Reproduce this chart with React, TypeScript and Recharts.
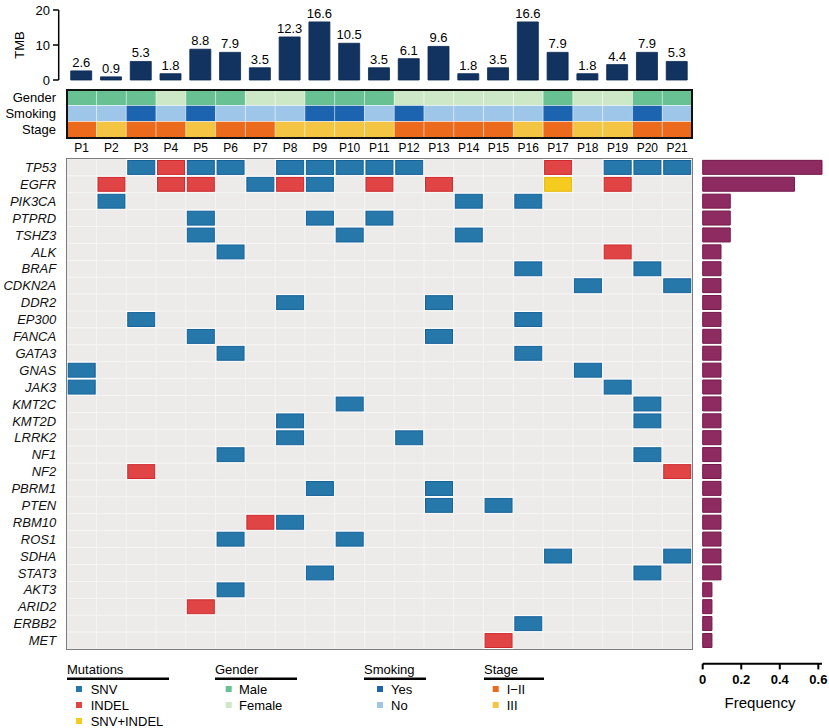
import React from 'react';
import { BarChart, Bar, XAxis, YAxis, Cell, LabelList } from 'recharts';

// ---------- data ----------
const patients = ['P1','P2','P3','P4','P5','P6','P7','P8','P9','P10','P11','P12','P13','P14','P15','P16','P17','P18','P19','P20','P21'];
const tmbValues = [2.6,0.9,5.3,1.8,8.8,7.9,3.5,12.3,16.6,10.5,3.5,6.1,9.6,1.8,3.5,16.6,7.9,1.8,4.4,7.9,5.3];
const tmbTicks = [0, 10, 20];

const trackNames = ['Gender', 'Smoking', 'Stage'];
const genderValues = ['Male','Male','Male','Female','Male','Male','Female','Female','Male','Male','Male','Female','Female','Female','Female','Female','Male','Female','Female','Male','Male'];
const smokingValues = ['No','No','Yes','No','Yes','No','No','No','Yes','Yes','No','Yes','No','No','No','No','Yes','No','No','Yes','No'];
const stageValues = ['I−II','III','I−II','I−II','III','I−II','I−II','III','III','III','III','I−II','I−II','I−II','I−II','III','I−II','III','III','I−II','I−II'];

const genes = ['TP53','EGFR','PIK3CA','PTPRD','TSHZ3','ALK','BRAF','CDKN2A','DDR2','EP300','FANCA','GATA3','GNAS','JAK3','KMT2C','KMT2D','LRRK2','NF1','NF2','PBRM1','PTEN','RBM10','ROS1','SDHA','STAT3','AKT3','ARID2','ERBB2','MET'];
// per gene, patients P1-P7 / P8-P14 / P15-P21 ; S = SNV, I = INDEL, B = SNV+INDEL
const mutationCodes = [
  '..SISS. SSSSS.. ..I.SSS', // TP53
  '.I.II.S IS.I.I. ..B.I..', // EGFR
  '.S..... ......S .S.....', // PIK3CA
  '....S.. .S.S... .......', // PTPRD
  '....S.. ..S...S .......', // TSHZ3
  '.....S. ....... ....I..', // ALK
  '....... ....... .S...S.', // BRAF
  '....... ....... ...S..S', // CDKN2A
  '....... S....S. .......', // DDR2
  '..S.... ....... .S.....', // EP300
  '....S.. .....S. .......', // FANCA
  '.....S. ....... .S.....', // GATA3
  'S...... ....... ...S...', // GNAS
  'S...... ....... ....S..', // JAK3
  '....... ..S.... .....S.', // KMT2C
  '....... S...... .....S.', // KMT2D
  '....... S...S.. .......', // LRRK2
  '.....S. ....... .....S.', // NF1
  '..I.... ....... ......I', // NF2
  '....... .S...S. .......', // PBRM1
  '....... .....S. S......', // PTEN
  '......I S...... .......', // RBM10
  '.....S. ..S.... .......', // ROS1
  '....... ....... ..S...S', // SDHA
  '....... .S..... .....S.', // STAT3
  '.....S. ....... .......', // AKT3
  '....I.. ....... .......', // ARID2
  '....... ....... .S.....', // ERBB2
  '....... ....... I......', // MET
];
const geneFrequency = [0.619,0.476,0.143,0.143,0.143,0.095,0.095,0.095,0.095,0.095,0.095,0.095,0.095,0.095,0.095,0.095,0.095,0.095,0.095,0.095,0.095,0.095,0.095,0.095,0.095,0.048,0.048,0.048,0.048];
const freqTicks = [0, 0.2, 0.4, 0.6];

const mutationLegend = ['SNV', 'INDEL', 'SNV+INDEL'];
const genderLegend = ['Male', 'Female'];
const smokingLegend = ['Yes', 'No'];
const stageLegend = ['I−II', 'III'];

// ---------- styles ----------
const mutationFill: Record<string, string> = { S: '#2677aa', I: '#e14444', B: '#f5cb1f' };
const mutationEdge: Record<string, string> = { S: '#15629b', I: '#cc2a2e', B: '#e5b80c' };
const emptyFill = '#ecebe9';
const genderColors: Record<string, string> = { Male: '#68c193', Female: '#cde8c6' };
const smokingColors: Record<string, string> = { Yes: '#1c63b0', No: '#9ec6e9' };
const stageColors: Record<string, string> = { 'I−II': '#ec6a1c', III: '#f4c542' };
const trackValues = [genderValues, smokingValues, stageValues];
const trackColors = [genderColors, smokingColors, stageColors];

const legendGroups = [
  { title: 'Mutations', items: mutationLegend, colors: [mutationFill.S, mutationFill.I, mutationFill.B] },
  { title: 'Gender', items: genderLegend, colors: genderLegend.map((g) => genderColors[g]) },
  { title: 'Smoking', items: smokingLegend, colors: smokingLegend.map((g) => smokingColors[g]) },
  { title: 'Stage', items: stageLegend, colors: stageLegend.map((g) => stageColors[g]) },
];
const legendLayout = [
  { x: 67, line: 102, sq: 9, tx: 23.7 },
  { x: 215, line: 82, sq: 10.7, tx: 24 },
  { x: 364, line: 62, sq: 13, tx: 27 },
  { x: 484, line: 60, sq: 8.7, tx: 22.7 },
];

// ---------- derived tables ----------
const tmbData = patients.map((p, i) => ({ patient: p, tmb: tmbValues[i] }));
const trackData = patients.map((p) => ({ patient: p, Gender: 1, Smoking: 1, Stage: 1 }));
const matrixData = patients.map((p) => {
  const row: Record<string, any> = { patient: p };
  genes.forEach((g) => { row[g] = 1; });
  return row;
});
const freqData = genes.map((g, i) => ({ gene: g, freq: geneFrequency[i] }));
const geneTicks = genes.map((_, i) => i + 0.5);
const trackTicks = trackNames.map((_, i) => i + 0.5);

const codeAt = (gi: number, pi: number) => mutationCodes[gi].replace(/ /g, '')[pi];

function MutCell(props: any) {
  let { x, y, width, height } = props;
  const { payload, gi } = props;
  if (height < 0) { y += height; height = -height; }
  const pi = patients.indexOf(payload.patient);
  const code = codeAt(gi, pi);
  if (!code || code === '.') {
    return <rect x={x} y={y} width={width} height={height} fill={emptyFill} stroke="#f5f5f3" strokeWidth={0.8} />;
  }
  return (
    <g>
      <rect x={x} y={y} width={width} height={height} fill="#ffffff" />
      <rect x={x + 1.5} y={y + 1.5} width={width - 3} height={height - 3} fill={mutationFill[code]} stroke={mutationEdge[code]} strokeWidth={1} />
    </g>
  );
}

function TmbLabel(props: any) {
  const vb = props.viewBox || { x: 0, y: 10, width: 58, height: 70 };
  const cx = vb.x + 19;
  const cy = vb.y + vb.height / 2;
  return (
    <text x={cx} y={cy} transform={`rotate(-90 ${cx} ${cy})`} textAnchor="middle" dominantBaseline="central" fontSize={13} fill="#000">TMB</text>
  );
}

export default function App() {
  return (
    <div style={{ position: 'absolute', left: 0, top: 0, width: 829, height: 728, background: '#fff', overflow: 'hidden', fontFamily: '"Liberation Sans", Arial, Helvetica, sans-serif' }}>
      {/* TMB bars */}
      <div style={{ position: 'absolute', left: 0, top: 0 }}>
        <BarChart width={700} height={90} data={tmbData} margin={{ top: 10, right: 8, bottom: 10, left: 0 }}>
          <XAxis dataKey="patient" hide padding={{ left: 8, right: 0 }} />
          <YAxis width={58.7} domain={[0, 20]} ticks={tmbTicks} interval={0} tickSize={5.7} tickMargin={3}
            axisLine={{ stroke: '#000', strokeWidth: 1.5 }} tickLine={{ stroke: '#000', strokeWidth: 1.5 }}
            tick={{ fontSize: 13, fill: '#000' }} label={{ value: 'TMB', content: TmbLabel }} />
          <Bar dataKey="tmb" fill="#12335f" stroke="#0b2a52" strokeWidth={0.8} barSize={21} isAnimationActive={false}>
            <LabelList dataKey="tmb" position="top" offset={4} fontSize={13} fill="#000" />
          </Bar>
        </BarChart>
      </div>

      {/* annotation tracks */}
      <div style={{ position: 'absolute', left: 0, top: 89 }}>
        <BarChart width={700} height={70} data={trackData} margin={{ top: 0.5, right: 8, bottom: 0, left: 0 }} barCategoryGap={0}>
          <XAxis dataKey="patient" interval={0} tickLine={false} axisLine={false} tickSize={0} tickMargin={5.5} height={21.5} tick={{ fontSize: 12, fill: '#000' }} />
          <YAxis type="number" domain={[0, 3]} reversed ticks={trackTicks} interval={0}
            tickFormatter={(v: number) => trackNames[Math.floor(v)]} width={66.7} tickSize={0} tickMargin={10.7}
            axisLine={false} tickLine={false} tick={{ fontSize: 13, fill: '#000' }} />
          {trackNames.map((t, ti) => (
            <Bar key={t} dataKey={t} stackId="a" isAnimationActive={false}>
              {patients.map((p, i) => (
                <Cell key={p} fill={trackColors[ti][trackValues[ti][i]]} stroke="rgba(255,255,255,0.45)" strokeWidth={1} />
              ))}
            </Bar>
          ))}
        </BarChart>
      </div>
      <div style={{ position: 'absolute', left: 65.7, top: 88.8, width: 627.5, height: 50, border: '2px solid #111', boxSizing: 'border-box', pointerEvents: 'none' }} />

      {/* mutation matrix */}
      <div style={{ position: 'absolute', left: 0, top: 150 }}>
        <BarChart width={700} height={510} data={matrixData} margin={{ top: 9, right: 8, bottom: 11, left: 0 }} barCategoryGap={0}>
          <XAxis dataKey="patient" hide />
          <YAxis type="number" domain={[0, genes.length]} reversed ticks={geneTicks} interval={0}
            tickFormatter={(v: number) => genes[Math.floor(v)]} width={66.7} tickSize={0} tickMargin={10.5}
            axisLine={false} tickLine={false} tick={{ fontSize: 13, fontStyle: 'italic', fill: '#111' }} />
          {genes.map((g, gi) => (
            <Bar key={g} dataKey={g} stackId="m" isAnimationActive={false} shape={(p: any) => <MutCell {...p} gi={gi} />} />
          ))}
        </BarChart>
      </div>
      <div style={{ position: 'absolute', left: 66, top: 158.4, width: 627, height: 491.4, border: '1.5px solid #7c7c7c', boxSizing: 'border-box', pointerEvents: 'none' }} />

      {/* frequency bars */}
      <div style={{ position: 'absolute', left: 690, top: 150 }}>
        <BarChart layout="vertical" width={139} height={578} data={freqData} margin={{ top: 9, right: 7, bottom: 34.3, left: 12.7 }} barCategoryGap="8%">
          <XAxis type="number" domain={[0, 'dataMax']} ticks={freqTicks} interval={0} height={30} tickSize={5.7} tickMargin={5}
            axisLine={{ stroke: '#000', strokeWidth: 2 }} tickLine={{ stroke: '#000', strokeWidth: 2 }}
            tick={{ fontSize: 13, fontWeight: 700, fill: '#000' }} />
          <YAxis type="category" dataKey="gene" hide padding={{ top: 0, bottom: 14.7 }} />
          <Bar dataKey="freq" fill="#8e2c61" stroke="#74184c" strokeWidth={1} isAnimationActive={false} />
        </BarChart>
      </div>
      <div style={{ position: 'absolute', left: 700, top: 694, width: 120, textAlign: 'center', fontSize: 15, lineHeight: '18px', color: '#000' }}>Frequency</div>

      {/* legends */}
      <svg width={829} height={728} style={{ position: 'absolute', left: 0, top: 0, pointerEvents: 'none' }}>
        {legendGroups.map((grp, gi) => {
          const L = legendLayout[gi];
          return (
            <g key={grp.title}>
              <text x={L.x} y={674} fontSize={13} fill="#000">{grp.title}</text>
              <line x1={L.x} x2={L.x + L.line} y1={678.8} y2={678.8} stroke="#000" strokeWidth={2.5} />
              {grp.items.map((it, k) => (
                <g key={it}>
                  <rect x={L.x + L.sq} y={689 + 16 * k - 3} width={6} height={6} fill={grp.colors[k]} />
                  <text x={L.x + L.tx} y={689 + 16 * k + 4.6} fontSize={13} fill="#000">{it}</text>
                </g>
              ))}
            </g>
          );
        })}
      </svg>
    </div>
  );
}
